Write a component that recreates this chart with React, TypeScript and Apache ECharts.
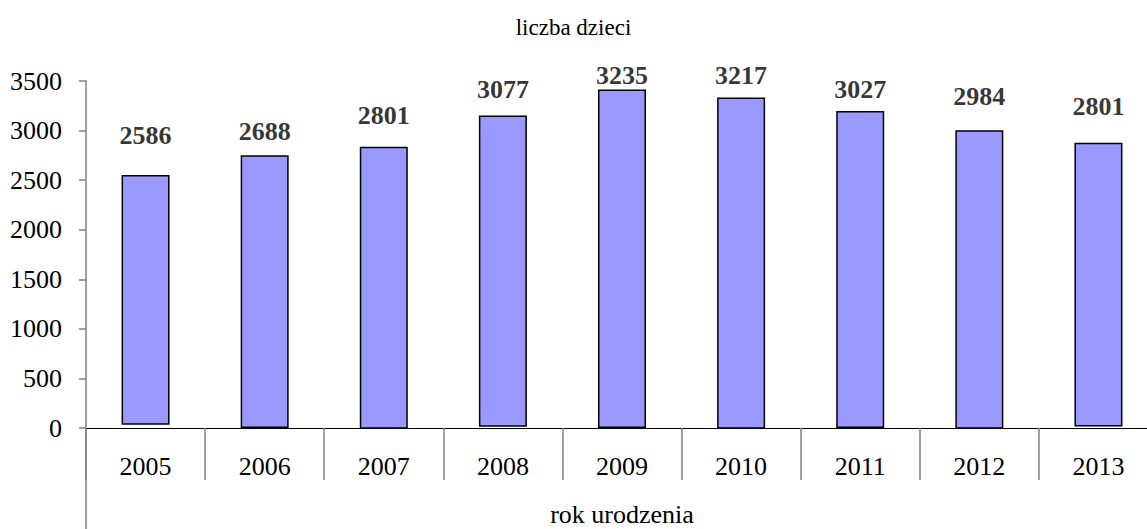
import React, { useEffect, useRef } from "react";
import * as echarts from "echarts";

const years = ["2005", "2006", "2007", "2008", "2009", "2010", "2011", "2012", "2013"];
// printed values (data labels)
const births = [2586, 2688, 2801, 3077, 3235, 3217, 3027, 2984, 2801];
// bar tops and bottoms as drawn in the picture (value units)
const barTops = [2551, 2752, 2836, 3152, 3414, 3333, 3198, 3004, 2876];
const barBottoms = [33, 0, -20, 13, 0, -24, 0, -17, 16];
// vertical centre of each printed label (value units)
const labelLevels = [2953, 2987, 3155, 3417, 3558, 3551, 3417, 3339, 3238];
const yTicks = { min: 0, max: 3500, interval: 500 };

const FONT = "'Times New Roman', 'Liberation Serif', serif";

export default function App() {
  const ref = useRef<HTMLDivElement>(null);
  useEffect(() => {
    if (!ref.current) return;
    const chart = echarts.init(ref.current, null, { renderer: "svg" });
    const gridLeft = 86;
    const gridTop = 81;
    const gridHeight = 347;
    const gridWidth = 1072;
    chart.setOption({
      animation: false,
      backgroundColor: "#ffffff",
      textStyle: { fontFamily: FONT },
      title: {
        text: "liczba dzieci",
        left: "center",
        top: 11,
        textStyle: { fontFamily: FONT, fontSize: 23, fontWeight: "normal", color: "#000" },
      },
      grid: {
        left: gridLeft,
        top: gridTop,
        width: gridWidth,
        height: gridHeight,
        containLabel: false,
        outerBoundsMode: "none",
      },
      xAxis: {
        type: "category",
        data: years,
        boundaryGap: true,
        axisLine: { show: true, lineStyle: { color: "#000", width: 1 } },
        axisTick: { show: true, length: 52, alignWithLabel: false, lineStyle: { color: "#808080", width: 1.5 } },
        axisLabel: { fontFamily: FONT, fontSize: 26, color: "#000", margin: 25 },
        name: "rok urodzenia",
        nameLocation: "middle",
        nameGap: 73,
        nameTextStyle: { fontFamily: FONT, fontSize: 26, color: "#000", lineHeight: 26 },
        splitLine: { show: false },
      },
      yAxis: {
        type: "value",
        min: yTicks.min,
        max: yTicks.max,
        interval: yTicks.interval,
        axisLine: { show: true, lineStyle: { color: "#808080", width: 1.5 } },
        axisTick: { show: true, length: 7, lineStyle: { color: "#808080", width: 1.5 } },
        axisLabel: {
          fontFamily: FONT,
          fontSize: 26,
          color: "#000",
          margin: 24,
          formatter: (v: number) => String(v),
        },
        splitLine: { show: false },
      },
      graphic: [
        {
          type: "line",
          shape: { x1: gridLeft, y1: gridTop + gridHeight, x2: gridLeft, y2: 529 },
          style: { stroke: "#808080", lineWidth: 1.5 },
          silent: true,
        },
      ],
      series: [
        {
          type: "bar",
          stack: "bars",
          stackStrategy: "all",
          barWidth: 48,
          silent: true,
          itemStyle: { color: "transparent", borderWidth: 0 },
          data: barBottoms,
        },
        {
          type: "bar",
          stack: "bars",
          stackStrategy: "all",
          barWidth: 48,
          itemStyle: { color: "#9999FF", borderColor: "#000", borderWidth: 1.5 },
          data: barTops.map((t, i) => t - barBottoms[i]),
        },
        {
          type: "scatter",
          symbolSize: 0,
          clip: false,
          data: labelLevels.map((v, i) => ({ value: v, label: { formatter: String(births[i]) } })),
          label: {
            show: true,
            position: "inside",
            fontFamily: FONT,
            fontSize: 26,
            fontWeight: "bold",
            color: "#000",
          },
        },
      ],
    });
    return () => chart.dispose();
  }, []);
  return <div ref={ref} style={{ width: 1147, height: 529, position: "absolute", left: 0, top: 0 }} />;
}
